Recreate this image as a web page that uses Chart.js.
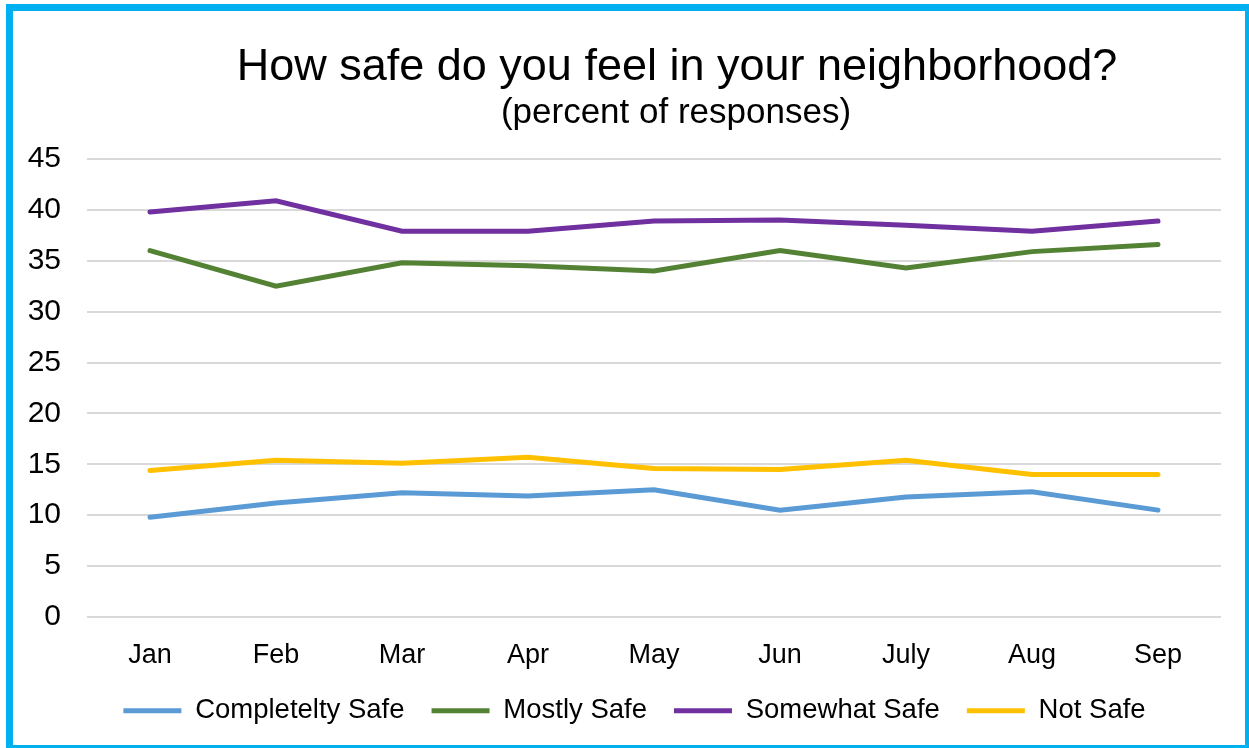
<!DOCTYPE html>
<html>
<head>
<meta charset="utf-8">
<script src="https://cdn.jsdelivr.net/npm/chart.js@4"></script>
<style>
  html, body { margin: 0; padding: 0; background: #fff; overflow: hidden; }
  #wrap { position: absolute; left: 0; top: 0; width: 1249px; height: 748px; }
  #frame {
    position: absolute; left: 6px; top: 4px; width: 1232px; height: 734px;
    border: 7px solid #00B0F0; pointer-events: none;
  }
</style>
</head>
<body>
<div id="wrap">
  <canvas id="safetyChart" width="1249" height="748"></canvas>
  <div id="frame"></div>
</div>
<script>
// Survey data (percent of responses)
const months = ['Jan', 'Feb', 'Mar', 'Apr', 'May', 'Jun', 'July', 'Aug', 'Sep'];
const completelySafe = [9.8, 11.2, 12.2, 11.9, 12.5, 10.5, 11.8, 12.3, 10.5];
const mostlySafe = [36.0, 32.5, 34.8, 34.5, 34.0, 36.0, 34.3, 35.9, 36.6];
const somewhatSafe = [39.8, 40.9, 37.9, 37.9, 38.9, 39.0, 38.5, 37.9, 38.9];
const notSafe = [14.4, 15.4, 15.1, 15.7, 14.6, 14.5, 15.4, 14.0, 14.0];
const yTicks = [0, 5, 10, 15, 20, 25, 30, 35, 40, 45];

const chartTitle = 'How safe do you feel in your neighborhood?';
const chartSubtitle = '(percent of responses)';

const fontFamily = '"Liberation Sans", Arial, Helvetica, sans-serif';

function lineSet(label, data, color) {
    return {
        label: label,
        data: data,
        borderColor: color,
        backgroundColor: color,
        borderWidth: 5,
        borderCapStyle: 'round',
        borderJoinStyle: 'miter',
        pointRadius: 0,
        tension: 0,
        fill: false
    };
}

// Title sits a bit right of centre in the original, so draw it ourselves
const headingPlugin = {
    id: 'heading',
    afterDraw(chart) {
        const c = chart.ctx;
        c.save();
        c.fillStyle = '#000';
        c.textAlign = 'center';
        c.textBaseline = 'middle';
        c.font = '45px ' + fontFamily;
        c.fillText(chartTitle, 677, 68);
        c.font = '35px ' + fontFamily;
        c.fillText(chartSubtitle, 676, 113);
        c.restore();
    }
};

// Legend row is a little right of the canvas centre too
const legendShift = {
    id: 'legendShift',
    afterLayout(chart) {
        if (chart.legend) {
            chart.legend.left += 12;
            chart.legend.right += 12;
        }
    }
};

const ctx = document.getElementById('safetyChart');
new Chart(ctx, {
    type: 'line',
    data: {
        labels: months,
        datasets: [
            lineSet('Completelty Safe', completelySafe, '#5B9BD5'),
            lineSet('Mostly Safe', mostlySafe, '#548235'),
            lineSet('Somewhat Safe', somewhatSafe, '#7030A0'),
            lineSet('Not Safe', notSafe, '#FFC000')
        ]
    },
    plugins: [headingPlugin, legendShift],
    options: {
        responsive: false,
        animation: false,
        layout: {
            padding: { left: 24, right: 28, top: 159, bottom: 13.5 }
        },
        plugins: {
            title: { display: false },
            legend: {
                position: 'bottom',
                labels: {
                    color: '#000',
                    font: { family: fontFamily, size: 27.5 },
                    boxWidth: 58,
                    boxHeight: 5,
                    padding: 27,
                    generateLabels: function(chart) {
                        return chart.data.datasets.map((ds, i) => ({
                            text: ds.label,
                            fillStyle: ds.borderColor,
                            strokeStyle: ds.borderColor,
                            lineWidth: 0,
                            fontColor: '#000',
                            datasetIndex: i,
                            hidden: false
                        }));
                    }
                }
            },
            tooltip: { enabled: false }
        },
        scales: {
            x: {
                offset: true,
                afterFit: function(scale) { scale.height = 53; },
                grid: { display: false, drawTicks: false },
                border: { display: false },
                ticks: {
                    color: '#000',
                    font: { family: fontFamily, size: 27, lineHeight: 1.1 },
                    padding: 24,
                    maxRotation: 0
                }
            },
            y: {
                min: 0,
                max: 45,
                afterFit: function(scale) { scale.width = 63; },
                afterBuildTicks: function(scale) {
                    scale.ticks = yTicks.map(v => ({ value: v }));
                },
                grid: { color: '#D9D9D9', lineWidth: 2, drawTicks: false },
                border: { display: false },
                ticks: {
                    color: '#000',
                    font: { family: fontFamily, size: 30 },
                    padding: 26
                }
            }
        }
    }
});
</script>
</body>
</html>
